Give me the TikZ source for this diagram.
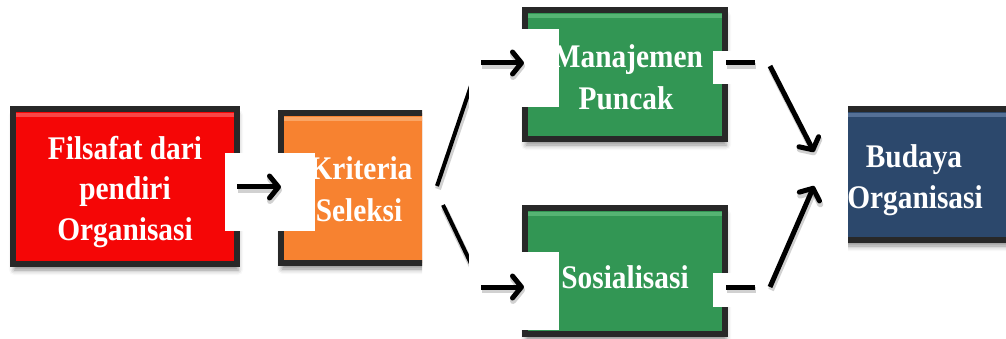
\documentclass[tikz,border=0pt]{standalone}
\usepackage{fontspec}
\setmainfont{Liberation Serif}[FakeStretch=0.89]
\usetikzlibrary{arrows.meta,shadows.blur}

\definecolor{boxedge}{RGB}{40,40,40}
\definecolor{redfill}{RGB}{245,6,6}
\definecolor{redhl}{RGB}{250,70,70}
\definecolor{orangefill}{RGB}{247,130,48}
\definecolor{orangehl}{RGB}{250,165,100}
\definecolor{greenfill}{RGB}{50,150,84}
\definecolor{greenhl}{RGB}{85,180,115}
\definecolor{navyfill}{RGB}{44,72,108}
\definecolor{navyhl}{RGB}{85,112,150}

\begin{document}
\begin{tikzpicture}[x=1pt,y=-1pt,
  box/.style={draw=boxedge, line width=6pt, inner sep=0pt, outer sep=0pt,
    blur shadow={shadow xshift=1pt, shadow yshift=-6pt,
                 shadow blur radius=5pt, shadow opacity=45}},
  hl/.style={line width=4pt, draw=#1},
  caption/.style={text=white, anchor=base, inner sep=0pt,
    font=\bfseries\fontsize{33}{40}\selectfont},
  patch/.style={fill=white, draw=none, inner sep=0pt, outer sep=0pt},
  link/.style={line width=4pt, black},
  arrow/.style={line width=5pt, black,
    -{Straight Barb[length=9pt,width=22pt,round]}},
  dashbar/.style={line width=5pt, black},
  ghost/.style={line width=6pt, black, opacity=0.18,
    transform canvas={shift={(1pt,-3pt)}}},
  ghostarrow/.style={ghost, -{Straight Barb[length=9pt,width=22pt,round]}},
]
\useasboundingbox (0,0) rectangle (1006,339);

% ---------- boxes ----------
\node[box, fill=redfill, minimum width=224pt, minimum height=155pt]
  (red) at (125,186.5) {};
\draw[hl=redhl] ([xshift=3pt,yshift=-6pt]red.north west) --
                ([xshift=-3pt,yshift=-6pt]red.north east);

\begin{scope}
  \clip (0,0) rectangle (422,339);
  \node[box, fill=orangefill, minimum width=224pt, minimum height=150pt]
    (orange) at (393,188) {};
  \draw[hl=orangehl] ([xshift=3pt,yshift=-6pt]orange.north west) --
                     ([xshift=-3pt,yshift=-6pt]orange.north east);
\end{scope}

\node[box, fill=greenfill, minimum width=200pt, minimum height=129pt]
  (top) at (625,74.5) {};
\draw[hl=greenhl] ([xshift=3pt,yshift=-6pt]top.north west) --
                  ([xshift=-3pt,yshift=-6pt]top.north east);

\node[box, fill=greenfill, minimum width=200pt, minimum height=126pt]
  (soc) at (625,271) {};
\draw[hl=greenhl] ([xshift=3pt,yshift=-6pt]soc.north west) --
                  ([xshift=-3pt,yshift=-6pt]soc.north east);

\begin{scope}
  \clip (848,0) rectangle (1006,339);
  \node[box, fill=navyfill, minimum width=194pt, minimum height=131pt]
    (culture) at (930,174.5) {};
  \draw[hl=navyhl] ([xshift=3pt,yshift=-6pt]culture.north west) --
                   ([xshift=-3pt,yshift=-6pt]culture.north east);
\end{scope}

% ---------- captions ----------
\node[caption] (redA) at (125,160) {Filsafat dari};
\node[caption] (redB) at (125,200) {pendiri};
\node[caption] (redC) at (125,240) {Organisasi};

\node[caption] (oraA) at (361,180) {Kriteria};
\node[caption] (oraB) at (359,222) {Seleksi};

\node[caption] (topA) at (628,68) {Manajemen};
\node[caption] (topB) at (626,110) {Puncak};

\node[caption] (socA) at (625,288) {Sosialisasi};

\node[caption] (culA) at (914,168) {Budaya};
\node[caption] (culB) at (915,208) {Organisasi};

% ---------- fork lines leaving the selection box ----------
\coordinate (forkUp)   at (437,186);
\coordinate (forkUpEnd) at (475,74);
\coordinate (forkDn)   at (443,205);
\coordinate (forkDnEnd) at (475,272);
\draw[ghost] (forkUp) -- (forkUpEnd);
\draw[ghost] (forkDn) -- (forkDnEnd);
\draw[link] (forkUp) -- (forkUpEnd);
\draw[link] (forkDn) -- (forkDnEnd);

% ---------- white patches ----------
\node[patch, minimum width=90pt, minimum height=78pt] (patchA) at (270,192) {};
\node[patch, minimum width=90pt, minimum height=78pt] (patchB) at (514,68) {};
\node[patch, minimum width=90pt, minimum height=78pt] (patchC) at (514,291) {};
\node[patch, minimum width=43pt, minimum height=33pt] (patchD) at (734.5,67.5) {};
\node[patch, minimum width=43pt, minimum height=34pt] (patchE) at (734.5,290) {};

% ---------- arrows ----------
\coordinate (a1s) at (237,187);  \coordinate (a1e) at (281,187);
\coordinate (a2s) at (481,63);   \coordinate (a2e) at (524,63);
\coordinate (a3s) at (481,287);  \coordinate (a3e) at (524,287);
\coordinate (d1s) at (726,63);   \coordinate (d1e) at (755,63);
\coordinate (d2s) at (726,287);  \coordinate (d2e) at (755,287);
\coordinate (j1s) at (770,66);   \coordinate (j1e) at (814,152);
\coordinate (j2s) at (770,287);  \coordinate (j2e) at (814,186);

\foreach \s/\e in {a1s/a1e, a2s/a2e, a3s/a3e, j1s/j1e, j2s/j2e}
  \draw[ghostarrow] (\s) -- (\e);
\foreach \s/\e in {d1s/d1e, d2s/d2e}
  \draw[ghost] (\s) -- (\e);

\foreach \s/\e in {a1s/a1e, a2s/a2e, a3s/a3e, j1s/j1e, j2s/j2e}
  \draw[arrow] (\s) -- (\e);
\foreach \s/\e in {d1s/d1e, d2s/d2e}
  \draw[dashbar] (\s) -- (\e);
\end{tikzpicture}
\end{document}
